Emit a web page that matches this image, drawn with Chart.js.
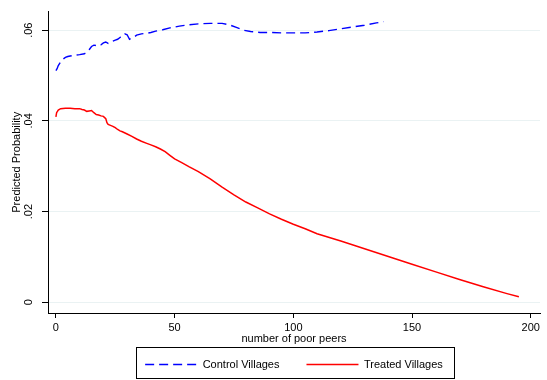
<!DOCTYPE html>
<html>
<head>
<meta charset="utf-8">
<script src="https://cdn.jsdelivr.net/npm/chart.js@4/dist/chart.umd.min.js"></script>
<style>
  html, body { margin: 0; padding: 0; background: #fff; }
  #wrap { width: 547px; height: 380px; }
</style>
</head>
<body>
<div id="wrap"><canvas id="c" width="547" height="380"></canvas></div>
<script>
// Number of poor peers (x) and predicted probability (y) for each village group
const controlX = [0, 0.5, 1, 2, 3, 4, 5, 6, 8, 10, 12, 13, 14, 15, 16, 17, 18, 19, 20, 21, 22, 23, 24, 25, 26, 27, 28, 29, 30, 31, 32, 33, 34, 36, 38, 40, 42, 45, 48, 52, 56, 60, 65, 70, 73, 76, 79, 82, 86, 90, 95, 100, 105, 110, 115, 120, 125, 130, 135, 138];
const controlY = [.0511, .0515, .0522, .0530, .0536, .0540, .0542, .0543, .0545, .0546, .0548, .0551, .0557, .0564, .0567, .0566, .0569, .0568, .0572, .0574, .0571, .0574, .0576, .0578, .0580, .0584, .0588, .0592, .0590, .0580, .0583, .0585, .0589, .0592, .0593, .0595, .0598, .0601, .0605, .0609, .0612, .0614, .0615, .0615, .0612, .0606, .0600, .0597, .0595, .0595, .0594, .0594, .0594, .0596, .0599, .0603, .0607, .0611, .0616, .0619];

const treatedX = [0, 0.3, 1, 2, 4, 6, 8, 10, 11, 12, 13, 14, 15, 16, 17, 18, 19, 20, 21, 21.5, 22, 23, 24, 25, 26, 27, 28, 30, 32, 34, 36, 38, 40, 42, 44, 46, 48, 50, 53, 56, 60, 65, 70, 75, 80, 85, 90, 95, 100, 105, 110, 120, 130, 140, 150, 160, 170, 180, 190, 195];
const treatedY = [.0409, .0418, .0424, .0427, .0428, .0428, .0427, .0427, .0425, .0424, .0421, .0422, .0423, .0418, .0414, .0413, .0411, .0410, .0405, .0396, .0392, .0390, .0388, .0385, .0381, .0378, .0376, .0371, .0366, .0360, .0355, .0351, .0347, .0343, .0338, .0332, .0324, .0316, .0308, .0299, .0288, .0272, .0254, .0237, .0221, .0208, .0195, .0183, .0172, .0162, .0151, .0135, .0118, .0101, .0084, .0067, .0050, .0034, .0019, .0012];

const xTicks = [0, 50, 100, 150, 200];
const yTicks = [0, .02, .04, .06];
const yTickLabels = ['0', '.02', '.04', '.06'];

const seriesNames = ['Control Villages', 'Treated Villages'];

const FONT = '"Liberation Sans", Arial, Helvetica, sans-serif';
Chart.defaults.font.family = FONT;
Chart.defaults.font.size = 11;
Chart.defaults.color = '#000';

const zip = (xs, ys) => xs.map((x, i) => ({ x: x, y: ys[i] }));

// Frame drawn around the legend entries
const legendFrame = {
  id: 'legendFrame',
  afterDraw(chart) {
    const lg = chart.legend;
    const hb = lg && lg.legendHitBoxes;
    if (!hb || !hb.length) return;
    const first = hb[0], last = hb[hb.length - 1];
    const x0 = Math.round(first.left - 9) + 0.5;
    const x1 = Math.round(last.left + last.width + 11) + 0.5;
    const y0 = Math.round(first.top - 12) + 0.5;
    const y1 = Math.round(first.top + first.height + 8) + 0.5;
    const ctx = chart.ctx;
    ctx.save();
    ctx.strokeStyle = '#000';
    ctx.lineWidth = 1;
    ctx.strokeRect(x0, y0, x1 - x0, y1 - y0);
    ctx.restore();
  }
};

new Chart(document.getElementById('c'), {
  type: 'line',
  data: {
    datasets: [
      {
        label: seriesNames[0],
        data: zip(controlX, controlY),
        borderColor: '#0000ff',
        backgroundColor: '#0000ff',
        borderWidth: 1.4,
        borderDash: [9, 5],
        pointRadius: 0,
        tension: 0,
        fill: false
      },
      {
        label: seriesNames[1],
        data: zip(treatedX, treatedY),
        borderColor: '#ff0000',
        backgroundColor: '#ff0000',
        borderWidth: 1.5,
        pointRadius: 0,
        tension: 0,
        fill: false
      }
    ]
  },
  plugins: [legendFrame],
  options: {
    responsive: false,
    animation: false,
    events: [],
    layout: { padding: { top: 5, right: 7, bottom: 0, left: 0 } },
    plugins: {
      tooltip: { enabled: false },
      legend: {
        position: 'bottom',
        fullSize: false,
        labels: {
          usePointStyle: true,
          pointStyle: 'line',
          pointStyleWidth: 52,
          boxHeight: 11,
          padding: 27,
          color: '#000',
          font: { size: 11 },
          // legend samples use each series' own line style (dash, width, colour)
          generateLabels(chart) {
            const items = Chart.defaults.plugins.legend.labels.generateLabels(chart);
            items.forEach(it => {
              const ds = chart.data.datasets[it.datasetIndex];
              it.lineDash = ds.borderDash || [];
              it.strokeStyle = ds.borderColor;
              it.lineWidth = ds.borderWidth;
            });
            return items;
          }
        }
      }
    },
    scales: {
      x: {
        type: 'linear',
        min: -3.33,
        max: 203.9,
        afterFit(scale) { scale.height = 19; },
        afterBuildTicks(scale) { scale.ticks = xTicks.map(v => ({ value: v })); },
        ticks: {
          maxRotation: 0,
          minRotation: 0,
          padding: 3,
          color: '#000',
          font: { size: 11 },
          callback: (v) => String(v)
        },
        grid: {
          drawOnChartArea: false,
          drawTicks: true,
          tickLength: 5,
          tickColor: '#000',
          tickWidth: 1
        },
        border: { display: true, color: '#000', width: 1 },
        title: {
          display: true,
          text: 'number of poor peers',
          color: '#000',
          font: { size: 11 },
          padding: { top: 0, bottom: -13.6 }
        }
      },
      y: {
        type: 'linear',
        min: -0.00237,
        max: 0.0641,
        afterFit(scale) { scale.width = 48; },
        afterBuildTicks(scale) { scale.ticks = yTicks.map(v => ({ value: v })); },
        ticks: {
          minRotation: 90,
          maxRotation: 90,
          crossAlign: 'center',
          padding: 5,
          color: '#000',
          font: { size: 11 },
          callback: (v) => {
            const i = yTicks.findIndex(t => Math.abs(t - v) < 1e-9);
            return i >= 0 ? yTickLabels[i] : '';
          }
        },
        grid: {
          color: '#eaf2f3',
          lineWidth: 1,
          drawTicks: true,
          tickLength: 6,
          tickColor: '#000',
          tickWidth: 1
        },
        border: { display: true, color: '#000', width: 1 },
        title: {
          display: true,
          text: 'Predicted Probability',
          color: '#000',
          font: { size: 11 },
          padding: { top: 10, bottom: 0 }
        }
      }
    }
  }
});
</script>
</body>
</html>
